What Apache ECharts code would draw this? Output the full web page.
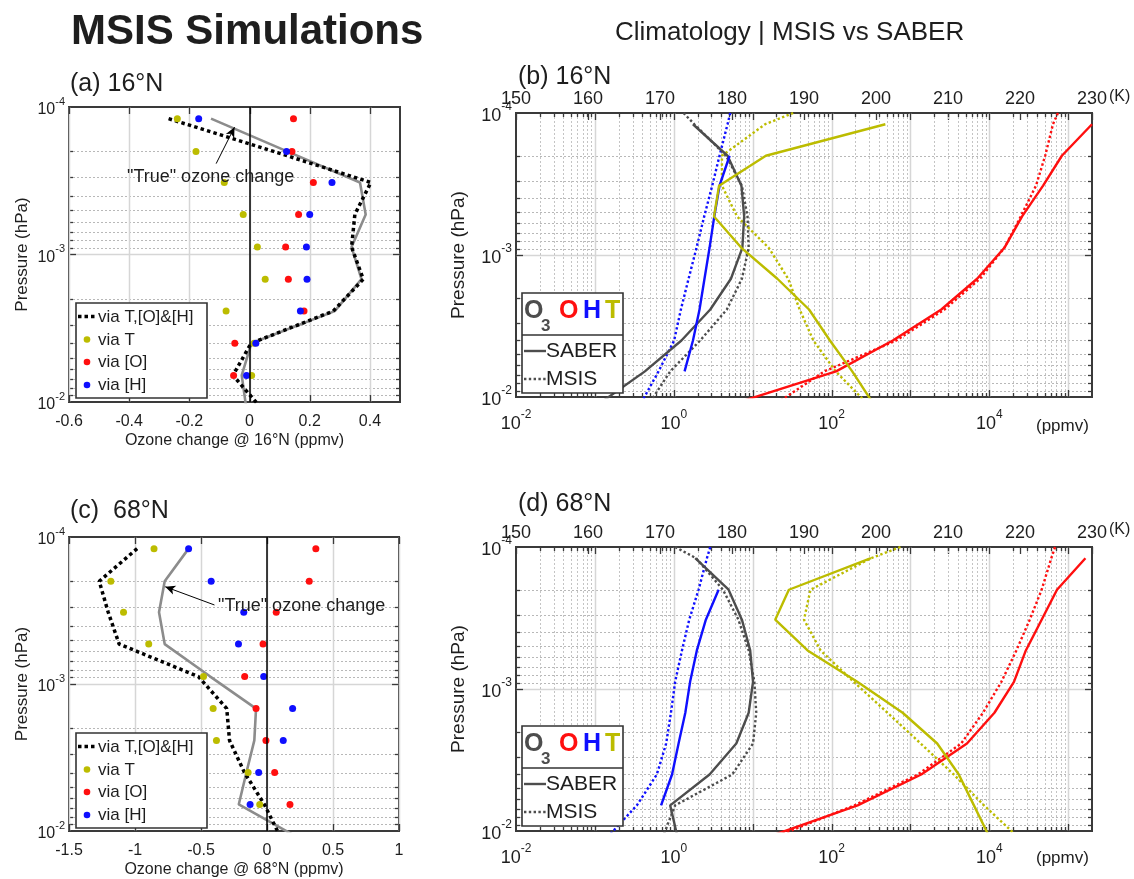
<!DOCTYPE html>
<html>
<head>
<meta charset="utf-8">
<title>MSIS Simulations</title>
<script src="https://cdn.jsdelivr.net/npm/echarts@6/dist/echarts.min.js"></script>
<style>
  html, body { margin: 0; padding: 0; background: #fff; }
  #chart { width: 1134px; height: 879px; }
</style>
</head>
<body>
<div id="chart"></div>
<script>
// pressure levels (hPa) of the SABER profiles and ozone change estimates
var pLev = [1.2e-4, 2.0e-4, 3.25e-4, 5.35e-4, 8.9e-4, 1.47e-3, 2.42e-3, 4.0e-3, 6.6e-3, 1.09e-2]
// MSIS profiles start at the 1e-4 hPa edge
var pMsis = [1.0e-4, 1.2e-4, 2.0e-4, 3.25e-4, 5.35e-4, 8.9e-4, 1.47e-3, 2.42e-3, 4.0e-3, 6.6e-3, 1.09e-2]

// tick labels
var tickA = [-0.6, -0.4, -0.2, 0, 0.2, 0.4]
var tickC = [-1.5, -1, -0.5, 0, 0.5, 1]

// (a) ozone change @ 16N (ppmv), dots on levels 1-9, lines on all levels
var viaT16 = [-0.24, -0.178, -0.084, -0.021, 0.026, 0.052, -0.078, 0.015, 0.007]
var viaO16 = [0.146, 0.141, 0.212, 0.163, 0.12, 0.129, 0.181, -0.049, -0.053]
var viaH16 = [-0.169, 0.123, 0.274, 0.2, 0.189, 0.191, 0.169, 0.021, -0.01]
var viaAll16 = [-0.269, 0.08, 0.403, 0.35, 0.339, 0.378, 0.278, 0.005, -0.055, 0.037]
var true16 = [-0.128, 0.125, 0.367, 0.386, 0.339, 0.372, 0.283, 0.006, -0.026, -0.011]

// (c) ozone change @ 68N (ppmv)
var viaT68 = [-0.856, -1.183, -1.087, -0.896, -0.481, -0.408, -0.383, -0.143, -0.055]
var viaO68 = [0.37, 0.32, 0.07, -0.03, -0.169, -0.083, -0.008, 0.058, 0.174]
var viaH68 = [-0.594, -0.423, -0.176, -0.216, -0.025, 0.194, 0.123, -0.063, -0.128]
var viaAll68 = [-0.984, -1.271, -1.203, -1.12, -0.52, -0.305, -0.284, -0.171, -0.02, 0.1]
var true68 = [-0.594, -0.775, -0.818, -0.775, -0.43, -0.083, -0.096, -0.156, -0.214, 0.22]

// (b) climatology 16N: mixing ratios (ppmv) and temperature (K)
var o3Saber16 = [1.75, 4.8, 7.2, 7.8, 7.4, 5.3, 2.9, 1.25, 0.43, 0.12]
var o3Msis16 = [1.33, 1.82, 4.6, 7.3, 8.6, 8.9, 7.3, 4.7, 2.16, 0.9, 0.5]
var hSaber16 = [null, 5.1, 3.8, 3.26, 2.84, 2.45, 2.12, 1.75, 1.37, null]
var hMsis16 = [5.2, 4.8, 3.8, 3.07, 2.43, 1.94, 1.54, 1.23, 1.01, 0.64, 0.39]
var oSaber16 = [2.0e5, 8.3e4, 4.8e4, 2.6e4, 1.55e4, 7000, 2460, 597, 114, 6.6]
var oMsis16 = [7.4e4, 6.4e4, 5.1e4, 3.9e4, 2.5e4, 1.55e4, 7600, 2700, 660, 81, 21]
var tSaber16 = [201.3, 184.7, 178.2, 177.5, 181.3, 186.3, 190.7, 193.6, 196.7, 199.5]
var tMsis16 = [188.5, 184.6, 178.6, 178.6, 180.7, 185.1, 187.8, 189.4, 191.3, 194.4, 198.6]

// (d) climatology 68N
var o3Saber68 = [1.87, 4.95, 7.3, 9.3, 10.1, 8.9, 6.2, 2.84, 0.9, 1.11]
var o3Msis68 = [1.04, 1.92, 4.2, 6.6, 8.9, 10.5, 11.1, 10.1, 5.5, 1.04, 0.73]
var hSaber68 = [null, 3.7, 2.55, 1.96, 1.61, 1.4, 1.15, 0.95, 0.69, null]
var hMsis68 = [2.9, 2.63, 2.06, 1.57, 1.27, 1.04, 0.92, 0.8, 0.61, 0.34, 0.148]
var oSaber68 = [1.65e5, 7.2e4, 4.6e4, 2.9e4, 2.05e4, 1.16e4, 5200, 1370, 214, 16.5]
var oMsis68 = [6.8e4, 6.1e4, 4.6e4, 3.25e4, 2.2e4, 1.42e4, 8300, 4400, 1240, 195, 20]
var tSaber68 = [199.3, 187.9, 186.0, 190.5, 197.4, 203.7, 208.5, 211.5, 213.6, 215.7]
var tMsis68 = [203.4, 199.3, 190.9, 190.0, 192.3, 196.9, 201.6, 206.2, 210.8, 215.0, 219.6]

var FONT = 'Liberation Sans'
var INK = '#1e1e1e'
var YEL = '#bcbc00'
var RED = '#ff0f0f'
var BLUE = '#0f0fff'
var O3C = '#4d4d4d'
var TRUEC = '#8c8c8c'

function pairs(xs, ps) {
  var out = []
  xs.forEach(function (v, i) {
    if (v !== null) out.push([v, ps[i]])
  })
  return out
}

function minorLogs(lo, hi, max) {
  var out = []
  for (var e = lo; e < hi; e++) {
    for (var k = 2; k <= 9; k++) {
      var v = k * Math.pow(10, e)
      if (v < max) out.push(v)
    }
  }
  return out
}

function supRich(size) {
  return {
    b: { fontFamily: FONT, fontSize: size, color: INK, lineHeight: size + 6, verticalAlign: 'bottom' },
    s: { fontFamily: FONT, fontSize: Math.round(size * 0.66), color: INK, lineHeight: size + 6, verticalAlign: 'top' }
  }
}

function powFmt(v) {
  var e = Math.round(Math.log10(v))
  return '{b|10}{s|' + e + '}'
}

function evenPowFmt(v) {
  var l = Math.log10(v)
  var e = Math.round(l)
  if (Math.abs(l - e) > 0.01 || e % 2 !== 0) return ''
  return '{b|10}{s|' + e + '}'
}

// grid lines + tick marks drawn through the axes' own scales
// kind: 0 minor horiz, 1 major horiz, 2 minor vert, 3 major vert
function decor(xIdx, yIdx, items, vLines) {
  return {
    type: 'custom',
    xAxisIndex: xIdx,
    yAxisIndex: yIdx,
    silent: true,
    clip: false,
    z: 1,
    data: items,
    encode: { x: 0, y: 1 },
    renderItem: function (params, api) {
      var cs = params.coordSys
      var kind = api.value(2)
      var pt = api.coord([api.value(0), api.value(1)])
      var tl = (kind % 2 === 1) ? 7 : 4
      var kids = []
      function seg(x1, y1, x2, y2, stroke, w, dash) {
        kids.push({ type: 'line', shape: { x1: x1, y1: y1, x2: x2, y2: y2 }, style: { stroke: stroke, lineWidth: w, lineDash: dash || null } })
      }
      if (kind < 2) {
        var y = Math.round(pt[1]) + 0.5
        if (kind === 0) seg(cs.x, y, cs.x + cs.width, y, '#b8b8b8', 1, [2, 2])
        else seg(cs.x, y, cs.x + cs.width, y, '#d6d6d6', 1.5)
        seg(cs.x, y, cs.x + tl, y, '#3a3a3a', 1.3)
        seg(cs.x + cs.width - tl, y, cs.x + cs.width, y, '#3a3a3a', 1.3)
      } else {
        var x = Math.round(pt[0]) + 0.5
        if (kind === 2 && vLines) seg(x, cs.y, x, cs.y + cs.height, '#c4c4c4', 1, [2, 2])
        if (kind === 3) seg(x, cs.y, x, cs.y + cs.height, '#d6d6d6', 1.5)
        seg(x, cs.y + cs.height, x, cs.y + cs.height - tl, '#3a3a3a', 1.3)
        seg(x, cs.y, x, cs.y + tl, '#3a3a3a', 1.3)
      }
      return { type: 'group', children: kids }
    }
  }
}

function linDecor(xIdx, yIdx, ticks, xmin) {
  var items = []
  minorLogs(-4, -2, 1).forEach(function (p) { items.push([xmin, p, 0]) })
  items.push([xmin, 1e-3, 1])
  ticks.forEach(function (t) { items.push([t, 1e-4, 3]) })
  return decor(xIdx, yIdx, items, false)
}

function logDecor(xIdx, yIdx) {
  var items = []
  minorLogs(-4, -2, 1).forEach(function (p) { items.push([0.01, p, 0]) })
  items.push([0.01, 1e-3, 1])
  minorLogs(-2, 6, 2e5).forEach(function (v) { items.push([v, 1e-4, 2]) })
  for (var e = -1; e <= 5; e++) items.push([Math.pow(10, e), 1e-4, 3])
  return decor(xIdx, yIdx, items, true)
}

function changeSeries(xIdx, yIdx, t, o, h, all, tru, arrow) {
  return [
    {
      type: 'line', xAxisIndex: xIdx, yAxisIndex: yIdx, z: 3,
      data: pairs(tru, pLev), symbol: 'none',
      lineStyle: { color: TRUEC, width: 2.6 },
      markLine: {
        silent: true, symbol: ['none', 'arrow'], symbolSize: [7, 10],
        label: { show: false },
        lineStyle: { color: '#000', width: 1, type: 'solid' },
        data: [[{ coord: arrow[0] }, { coord: arrow[1] }]]
      }
    },
    {
      type: 'line', xAxisIndex: xIdx, yAxisIndex: yIdx, z: 3,
      data: pairs(all, pLev), symbol: 'none',
      lineStyle: { color: '#000', width: 3.5, type: [3.5, 3.2], cap: 'butt' }
    },
    {
      type: 'scatter', xAxisIndex: xIdx, yAxisIndex: yIdx, z: 4,
      data: pairs(t, pLev), symbolSize: 7, itemStyle: { color: YEL, opacity: 1 },
      markLine: {
        silent: true, symbol: ['none', 'none'], label: { show: false },
        lineStyle: { color: '#000', width: 1.5, type: 'solid' },
        data: [{ xAxis: 0 }]
      }
    },
    {
      type: 'scatter', xAxisIndex: xIdx, yAxisIndex: yIdx, z: 4,
      data: pairs(o, pLev), symbolSize: 7, itemStyle: { color: RED, opacity: 1 }
    },
    {
      type: 'scatter', xAxisIndex: xIdx, yAxisIndex: yIdx, z: 4,
      data: pairs(h, pLev), symbolSize: 7, itemStyle: { color: BLUE, opacity: 1 }
    }
  ]
}

function climSeries(xIdx, tIdx, yIdx, o3s, o3m, hs, hm, os, om, ts, tm) {
  function ln(x, data, color, dotted) {
    return {
      type: 'line', xAxisIndex: x, yAxisIndex: yIdx, z: 3, symbol: 'none', data: data,
      lineStyle: dotted ? { color: color, width: 2.4, type: [2.4, 2.4], cap: 'butt' } : { color: color, width: 2.4 }
    }
  }
  return [
    ln(xIdx, pairs(o3m, pMsis), O3C, true),
    ln(xIdx, pairs(hm, pMsis), BLUE, true),
    ln(xIdx, pairs(om, pMsis), RED, true),
    ln(tIdx, pairs(tm, pMsis), YEL, true),
    ln(xIdx, pairs(o3s, pLev), O3C, false),
    ln(xIdx, pairs(hs, pLev), BLUE, false),
    ln(xIdx, pairs(os, pLev), RED, false),
    ln(tIdx, pairs(ts, pLev), YEL, false)
  ]
}

function pressAxis(grid, gap, size) {
  return {
    type: 'log', logBase: 10, gridIndex: grid, min: 1e-4, max: 1e-2, inverse: true,
    axisLine: { show: false }, axisTick: { show: false }, splitLine: { show: false },
    axisLabel: { formatter: powFmt, rich: supRich(size), margin: 4 },
    name: 'Pressure (hPa)', nameLocation: 'middle', nameGap: gap,
    nameTextStyle: { fontFamily: FONT, fontSize: size + 1, color: INK }
  }
}

function changeAxis(grid, min, max, interval, name) {
  return {
    type: 'value', gridIndex: grid, min: min, max: max, interval: interval, position: 'bottom',
    axisLine: { show: false }, axisTick: { show: false }, splitLine: { show: false },
    axisLabel: { fontFamily: FONT, fontSize: 16, color: INK, margin: 12, showMaxLabel: max === 1 },
    name: name, nameLocation: 'middle', nameGap: 31,
    nameTextStyle: { fontFamily: FONT, fontSize: 16, color: INK }
  }
}

function ppmvAxis(grid) {
  return {
    type: 'log', logBase: 10, gridIndex: grid, min: 0.01, max: 2e5, position: 'bottom',
    axisLine: { show: false }, axisTick: { show: false }, splitLine: { show: false },
    axisLabel: { formatter: evenPowFmt, rich: supRich(18), margin: 12 }
  }
}

function tempAxis(grid) {
  return {
    type: 'value', gridIndex: grid, min: 150, max: 230, interval: 10, position: 'top',
    axisLine: { show: false }, splitLine: { show: false },
    axisTick: { show: true, inside: true, length: 7, lineStyle: { color: '#3a3a3a', width: 1.3 } },
    axisLabel: { fontFamily: FONT, fontSize: 18, color: INK, margin: 5 }
  }
}

function txt(x, y, s, size, opts) {
  opts = opts || {}
  return {
    type: 'text', x: x, y: y, z: 50,
    style: {
      text: s, fontFamily: opts.family || FONT, fontSize: size, fontWeight: opts.weight || 'normal',
      fill: opts.color || INK, textAlign: opts.align || 'left', textVerticalAlign: 'middle'
    }
  }
}

function seg(x1, y1, x2, y2, color, w, dash) {
  return { type: 'line', z: 50, shape: { x1: x1, y1: y1, x2: x2, y2: y2 }, style: { stroke: color, lineWidth: w, lineDash: dash || null } }
}

function dot(x, y, color) {
  return { type: 'circle', z: 50, shape: { cx: x, cy: y, r: 3.3 }, style: { fill: color } }
}

function changeLegend(dy) {
  return [
    { type: 'rect', z: 49, shape: { x: 76, y: 303 + dy, width: 131, height: 95 }, style: { fill: '#fff', stroke: '#333', lineWidth: 1.6 } },
    seg(78, 316.5 + dy, 97, 316.5 + dy, '#000', 3.5, [3.5, 3]),
    txt(98, 317 + dy, 'via T,[O]&[H]', 17),
    dot(87, 339.5 + dy, YEL), txt(98, 340 + dy, 'via T', 17),
    dot(87, 362 + dy, RED), txt(98, 362.5 + dy, 'via [O]', 17),
    dot(87, 385 + dy, BLUE), txt(98, 385.5 + dy, 'via [H]', 17)
  ]
}

function climLegend(dy) {
  return [
    { type: 'rect', z: 49, shape: { x: 522, y: 293 + dy, width: 101, height: 100 }, style: { fill: '#fff', stroke: '#333', lineWidth: 1.6 } },
    seg(522, 335 + dy, 623, 335 + dy, '#333', 1.6),
    txt(524, 311 + dy, 'O', 25, { weight: 'bold', color: O3C }),
    txt(541, 326 + dy, '3', 17, { weight: 'bold', color: O3C }),
    txt(559, 311 + dy, 'O', 25, { weight: 'bold', color: RED }),
    txt(583, 311 + dy, 'H', 25, { weight: 'bold', color: BLUE }),
    txt(605, 311 + dy, 'T', 25, { weight: 'bold', color: YEL }),
    seg(524, 351 + dy, 546, 351 + dy, O3C, 2.4),
    txt(546, 351 + dy, 'SABER', 21),
    seg(524, 379 + dy, 546, 379 + dy, O3C, 2.4, [2.4, 2.4]),
    txt(546, 379 + dy, 'MSIS', 21)
  ]
}

var GRID = { show: true, borderColor: '#3a3a3a', borderWidth: 2, backgroundColor: 'rgba(0,0,0,0)', containLabel: false }

var option = {
  animation: false,
  backgroundColor: '#fff',
  textStyle: { fontFamily: FONT },
  grid: [
    Object.assign({ left: 69, top: 107, width: 331, height: 295 }, GRID),
    Object.assign({ left: 69, top: 537, width: 330, height: 295 }, GRID),
    Object.assign({ left: 516, top: 113, width: 576, height: 284 }, GRID),
    Object.assign({ left: 516, top: 547, width: 576, height: 284 }, GRID)
  ],
  xAxis: [
    changeAxis(0, -0.6, 0.5, 0.2, 'Ozone change @ 16°N (ppmv)'),
    changeAxis(1, -1.5, 1, 0.5, 'Ozone change @ 68°N (ppmv)'),
    ppmvAxis(2),
    tempAxis(2),
    ppmvAxis(3),
    tempAxis(3)
  ],
  yAxis: [
    pressAxis(0, 38, 16),
    pressAxis(1, 38, 16),
    pressAxis(2, 48, 18),
    pressAxis(3, 48, 18)
  ],
  series: [].concat(
    [linDecor(0, 0, tickA, -0.6), linDecor(1, 1, tickC, -1.5), logDecor(2, 2), logDecor(4, 3)],
    changeSeries(0, 0, viaT16, viaO16, viaH16, viaAll16, true16, [[-0.111, 2.42e-4], [-0.05, 1.37e-4]]),
    changeSeries(1, 1, viaT68, viaO68, viaH68, viaAll68, true68, [[-0.398, 2.9e-4], [-0.771, 2.18e-4]]),
    climSeries(2, 3, 2, o3Saber16, o3Msis16, hSaber16, hMsis16, oSaber16, oMsis16, tSaber16, tMsis16),
    climSeries(4, 5, 3, o3Saber68, o3Msis68, hSaber68, hMsis68, oSaber68, oMsis68, tSaber68, tMsis68)
  ),
  graphic: [].concat(
    [
      txt(71, 32, 'MSIS Simulations', 42, { weight: 'bold' }),
      txt(615, 33, 'Climatology | MSIS vs SABER', 26),
      txt(70, 84, '(a) 16°N', 25),
      txt(518, 77, '(b) 16°N', 25),
      txt(70, 511, '(c)  68°N', 25),
      txt(518, 504, '(d) 68°N', 25),
      txt(127, 177, '"True" ozone change', 18),
      txt(218, 606, '"True" ozone change', 18),
      txt(1109, 97, '(K)', 16),
      txt(1109, 530, '(K)', 16),
      txt(1036, 426, '(ppmv)', 17),
      txt(1036, 858, '(ppmv)', 17)
    ],
    changeLegend(0), changeLegend(430), climLegend(0), climLegend(433)
  )
}

var myChart = echarts.init(document.getElementById('chart'), null, { renderer: 'canvas' })
myChart.setOption(option)
</script>
</body>
</html>
